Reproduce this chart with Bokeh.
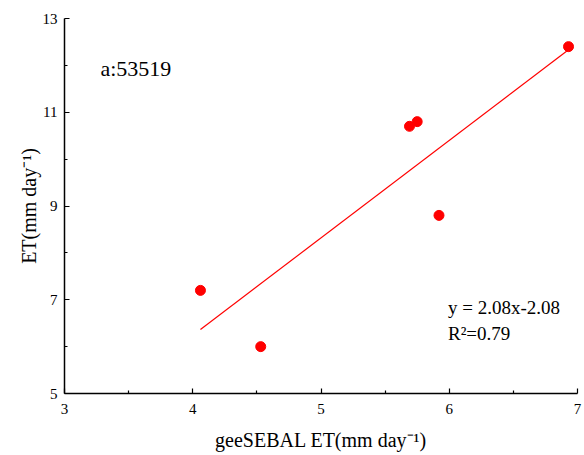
from bokeh.plotting import figure
from bokeh.models import FixedTicker, Label, Range1d
from bokeh.embed import file_html
from bokeh.resources import INLINE
import numpy as np

# data
gee_et = [4.06, 4.53, 5.69, 5.75, 5.92, 6.93]
obs_et = [7.2, 6.0, 10.7, 10.8, 8.8, 12.4]
slope = 2.08
intercept = -2.08
r2 = 0.79
station = "a:53519"
x_ticks = [3, 4, 5, 6, 7]
x_minor = [3.5, 4.5, 5.5, 6.5]
y_ticks = [5, 7, 9, 11, 13]
y_minor = [6, 8, 10, 12]

FONT = "Liberation Serif"

p = figure(width=584, height=455, output_backend="svg", toolbar_location=None,
           x_range=Range1d(3, 7), y_range=Range1d(5, 13),
           min_border_left=64, min_border_top=18, min_border_right=7,
           min_border_bottom=62)
p.outline_line_color = None
p.grid.visible = False

xs = np.array([min(gee_et), max(gee_et)])
p.line(xs, slope * xs + intercept, line_color="red", line_width=1.2)
p.scatter(gee_et, obs_et, size=10, fill_color="red", line_color="red")

for ax in (p.xaxis[0], p.yaxis[0]):
    ax.axis_line_width = 1.5
    ax.axis_line_color = "black"
    ax.major_tick_in = 5
    ax.major_tick_out = 0
    ax.minor_tick_in = 3
    ax.minor_tick_out = 0
    ax.major_tick_line_width = 1.2
    ax.minor_tick_line_width = 1.2
    ax.major_label_text_font = FONT
    ax.major_label_text_font_size = "15px"
    ax.major_label_text_color = "black"
    ax.axis_label_text_font = FONT
    ax.axis_label_text_font_size = "20px"
    ax.axis_label_text_font_style = "normal"
    ax.axis_label_text_color = "black"

p.xaxis.ticker = FixedTicker(ticks=x_ticks, minor_ticks=x_minor)
p.yaxis.ticker = FixedTicker(ticks=y_ticks, minor_ticks=y_minor)
p.xaxis.axis_label = "geeSEBAL ET(mm day\u207b\u00b9)"
p.yaxis.axis_label = "ET(mm day\u207b\u00b9)"
p.xaxis.major_label_standoff = 10
p.yaxis.major_label_standoff = 7
p.xaxis.axis_label_standoff = 12
p.yaxis.axis_label_standoff = 0

p.add_layout(Label(x=3.28, y=11.94, text=station, text_font=FONT,
                   text_font_size="22px", text_baseline="middle",
                   text_color="black"))
p.add_layout(Label(x=5.99, y=6.84,
                   text=f"y = {slope:.2f}x-{abs(intercept):.2f}",
                   text_font=FONT, text_font_size="19px", text_baseline="middle",
                   text_color="black"))
p.add_layout(Label(x=5.99, y=6.27, text=f"R\u00b2={r2:.2f}",
                   text_font=FONT, text_font_size="19px", text_baseline="middle",
                   text_color="black"))

open("out.html", "w").write(file_html(p, INLINE))
